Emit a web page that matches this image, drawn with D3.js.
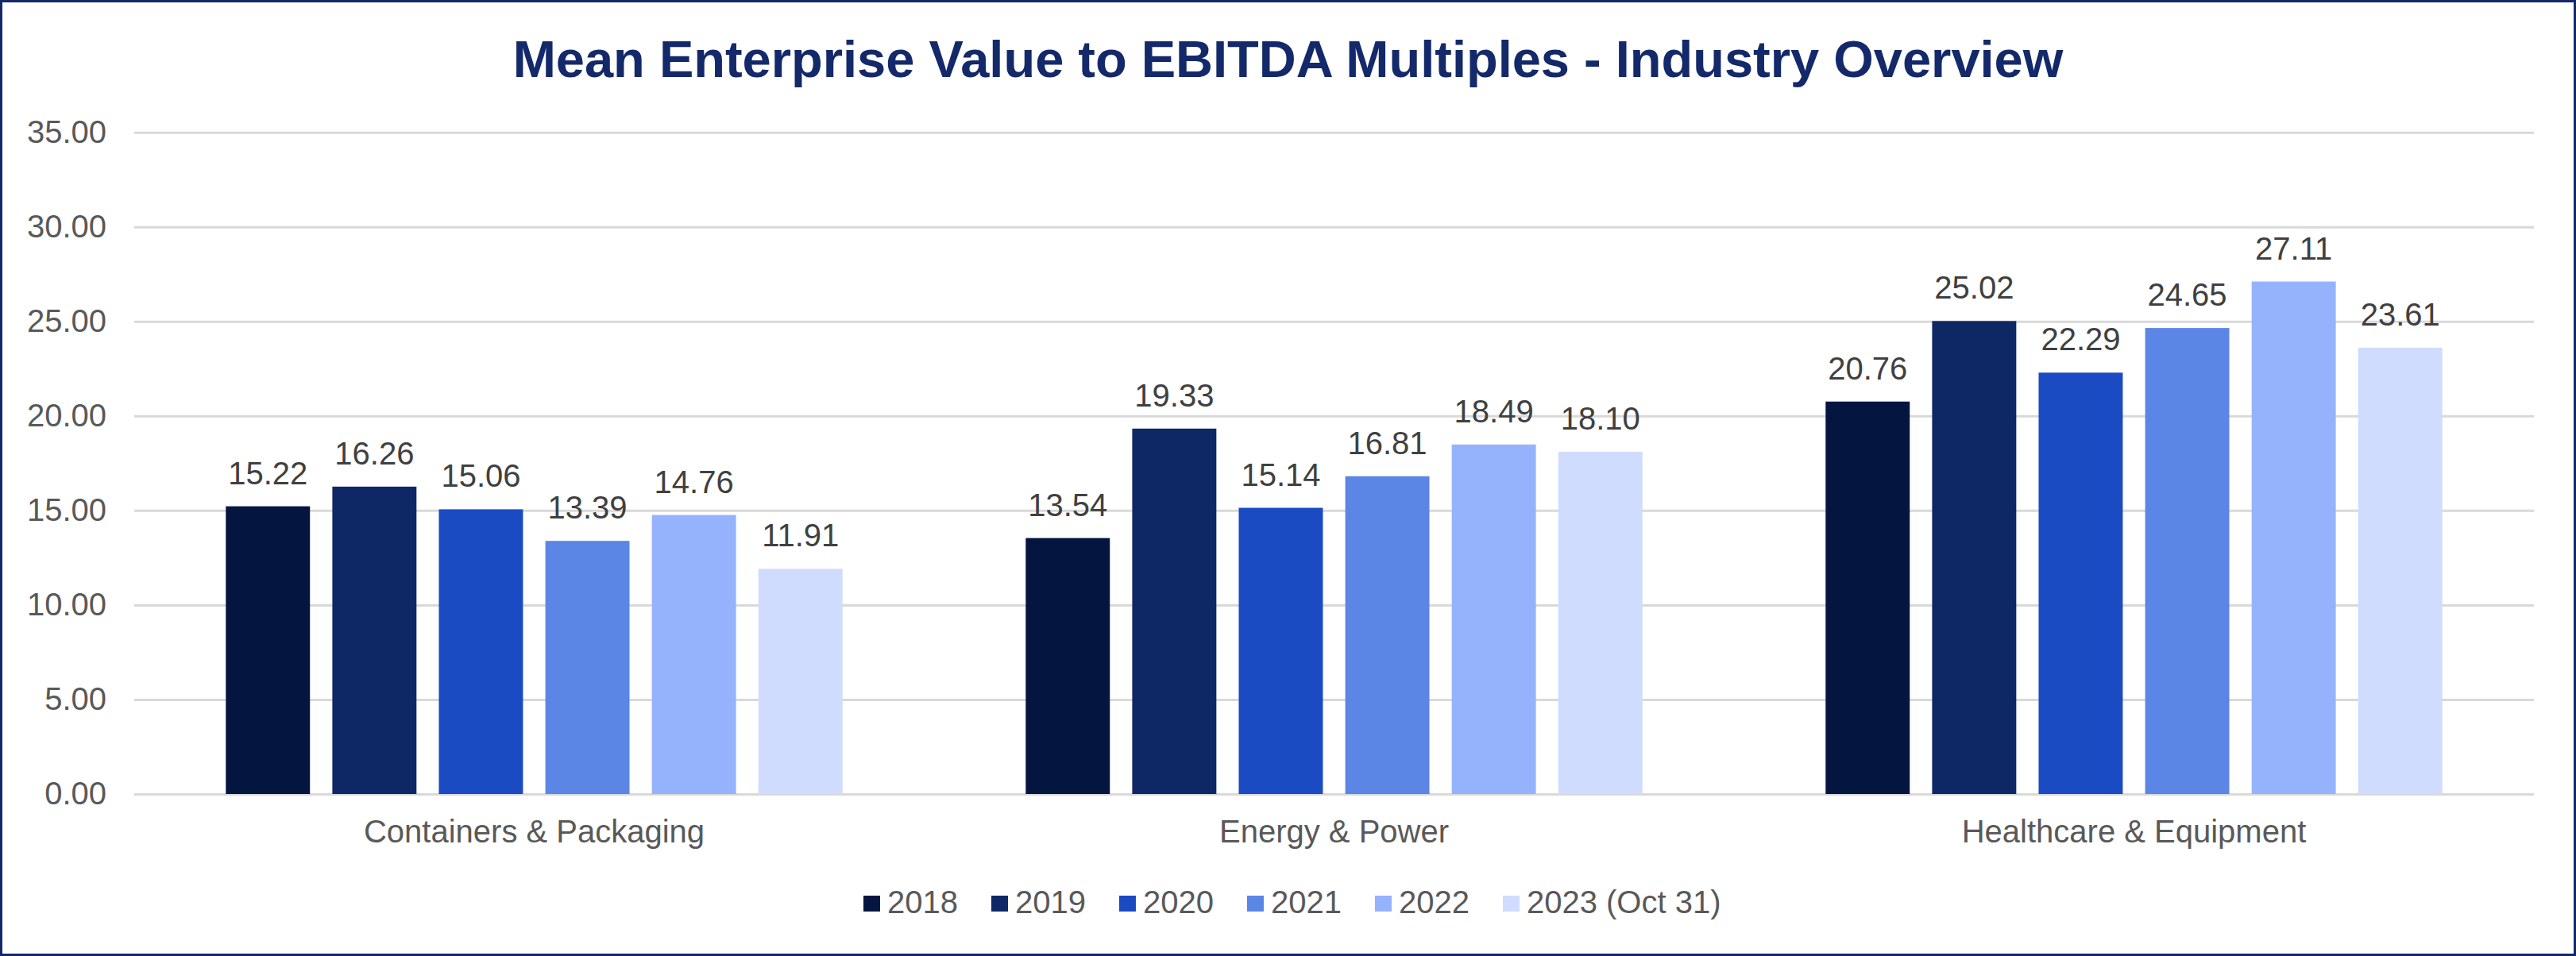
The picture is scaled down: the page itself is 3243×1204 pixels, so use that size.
<!DOCTYPE html>
<html>
<head>
<meta charset="utf-8">
<script src="https://cdn.jsdelivr.net/npm/d3@7"></script>
<style>
  html, body { margin: 0; padding: 0; background: #fff; }
  svg { display: block; font-family: Arial, "Liberation Sans", sans-serif; }
</style>
</head>
<body>
<svg id="chart" width="3243" height="1204"></svg>
<script>
// chart data
var categories = ["Containers & Packaging", "Energy & Power", "Healthcare & Equipment"];
var years = ["2018", "2019", "2020", "2021", "2022", "2023 (Oct 31)"];
var v2018 = [15.22, 13.54, 20.76];
var v2019 = [16.26, 19.33, 25.02];
var v2020 = [15.06, 15.14, 22.29];
var v2021 = [13.39, 16.81, 24.65];
var v2022 = [14.76, 18.49, 27.11];
var v2023 = [11.91, 18.10, 23.61];
var yTicks = [0, 5, 10, 15, 20, 25, 30, 35];

var series = [v2018, v2019, v2020, v2021, v2022, v2023];
var colors = ["#041640", "#0e2866", "#1b4bc2", "#5b86e6", "#95b3fd", "#cfdcfe"];

var W = 3243, H = 1204;
var svg = d3.select("#chart");

// outer frame
svg.append("rect")
  .attr("x", 1.5).attr("y", 1.5)
  .attr("width", W - 3).attr("height", H - 3)
  .attr("fill", "#fff")
  .attr("stroke", "#14296a")
  .attr("stroke-width", 3);

svg.append("text")
  .attr("x", W / 2)
  .attr("y", 97)
  .attr("text-anchor", "middle")
  .attr("font-size", 65)
  .attr("font-weight", "bold")
  .attr("fill", "#14296a")
  .text("Mean Enterprise Value to EBITDA Multiples - Industry Overview");

var plotLeft = 169, plotRight = 3190, plotTop = 166.7, plotBottom = 1000;

var x0 = d3.scaleBand()
  .domain(categories)
  .range([plotLeft, plotRight])
  .paddingInner(0.229)
  .paddingOuter(0.1145);

var x1 = d3.scaleBand()
  .domain(years)
  .range([0, x0.bandwidth()])
  .paddingInner(0.21)
  .paddingOuter(0);

var y = d3.scaleLinear()
  .domain([0, 35])
  .range([plotBottom, plotTop]);

// gridlines + y labels
var yAxis = svg.append("g")
  .attr("transform", "translate(" + plotLeft + ",0)")
  .call(d3.axisLeft(y)
    .tickValues(yTicks)
    .tickSize(-(plotRight - plotLeft))
    .tickPadding(35)
    .tickFormat(d3.format(".2f")));
yAxis.select(".domain").remove();
yAxis.selectAll(".tick line")
  .attr("stroke", "#d9d9d9")
  .attr("stroke-width", 3);
yAxis.selectAll(".tick text")
  .attr("font-size", 40)
  .attr("font-family", "Arial, 'Liberation Sans', sans-serif")
  .attr("fill", "#595959");

// category labels
var xAxis = svg.append("g")
  .attr("transform", "translate(0," + plotBottom + ")")
  .call(d3.axisBottom(x0).tickSize(0).tickPadding(33));
xAxis.select(".domain").remove();
xAxis.selectAll(".tick text")
  .attr("font-size", 40)
  .attr("font-family", "Arial, 'Liberation Sans', sans-serif")
  .attr("fill", "#595959");

// bars
var rows = [];
categories.forEach(function (c, i) {
  years.forEach(function (yr, j) {
    rows.push({ cat: c, year: yr, value: series[j][i], color: colors[j] });
  });
});

var g = svg.append("g");

g.selectAll(".bar")
  .data(rows)
  .enter()
  .append("rect")
  .attr("class", "bar")
  .attr("x", function (d) { return x0(d.cat) + x1(d.year); })
  .attr("y", function (d) { return y(d.value); })
  .attr("width", x1.bandwidth())
  .attr("height", function (d) { return y(0) - y(d.value); })
  .attr("fill", function (d) { return d.color; });

g.selectAll(".lbl")
  .data(rows)
  .enter()
  .append("text")
  .attr("class", "lbl")
  .attr("x", function (d) { return x0(d.cat) + x1(d.year) + x1.bandwidth() / 2; })
  .attr("y", function (d) { return y(d.value) - 28; })
  .attr("text-anchor", "middle")
  .attr("font-size", 40)
  .attr("fill", "#404040")
  .text(function (d) { return d.value.toFixed(2); });

// legend
var legend = svg.append("g").attr("transform", "translate(1087,1128)");
var lx = 0;
years.forEach(function (yr, j) {
  var item = legend.append("g").attr("transform", "translate(" + lx + ",0)");
  item.append("rect")
    .attr("width", 21).attr("height", 20)
    .attr("fill", colors[j]);
  var t = item.append("text")
    .attr("x", 30)
    .attr("y", 22)
    .attr("font-size", 40)
    .attr("fill", "#595959")
    .text(yr);
  lx += 30 + t.node().getComputedTextLength() + 42;
});
</script>
</body>
</html>
